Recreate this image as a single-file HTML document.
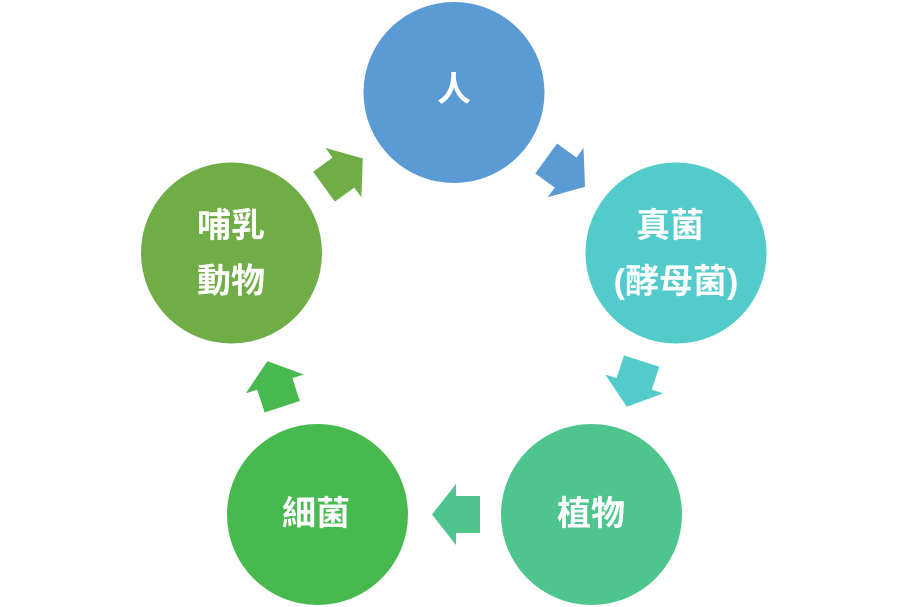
<!DOCTYPE html>
<html>
<head>
<meta charset="utf-8">
<style>
html,body{margin:0;padding:0;background:#fff;}
body{width:908px;height:607px;overflow:hidden;}
svg{display:block;}
text{font-family:"Liberation Sans","Noto Sans CJK TC","Noto Sans CJK JP",sans-serif;font-weight:bold;fill:#fff;font-size:34px;}
</style>
</head>
<body>
<svg width="908" height="607" viewBox="0 0 908 607" xmlns="http://www.w3.org/2000/svg">
  <!-- circles -->
  <circle cx="454" cy="92.5" r="90.5" fill="#5B9BD5"/>
  <circle cx="676" cy="253" r="90.5" fill="#53CBCB"/>
  <circle cx="591.5" cy="514.5" r="90.5" fill="#4DC58D"/>
  <circle cx="317.5" cy="514.5" r="90.5" fill="#48B94E"/>
  <circle cx="231.5" cy="253" r="90.5" fill="#70AD47"/>

  <!-- arrows -->
  <g id="a">
  </g>
  <polygon transform="translate(565.6,172.6) rotate(36)" points="-24,-18.5 0,-18.5 0,-30.5 24,0 0,30.5 0,18.5 -24,18.5" fill="#5B9BD5"/>
  <polygon transform="translate(634.2,383.9) rotate(108)" points="-24,-18.5 0,-18.5 0,-30.5 24,0 0,30.5 0,18.5 -24,18.5" fill="#53CBCB"/>
  <polygon transform="translate(456,514.5) rotate(180)" points="-24,-18.5 0,-18.5 0,-30.5 24,0 0,30.5 0,18.5 -24,18.5" fill="#4DC58D"/>
  <polygon transform="translate(274.8,383.9) rotate(252)" points="-24,-18.5 0,-18.5 0,-30.5 24,0 0,30.5 0,18.5 -24,18.5" fill="#48B94E"/>
  <polygon transform="translate(343.4,172.6) rotate(324)" points="-24,-18.5 0,-18.5 0,-30.5 24,0 0,30.5 0,18.5 -24,18.5" fill="#70AD47"/>

  <!-- labels -->
  <text x="454" y="90" text-anchor="middle" dominant-baseline="central">人</text>
  <text x="670" y="226" text-anchor="middle" dominant-baseline="central">真菌</text>
  <text x="676" y="282" text-anchor="middle" dominant-baseline="central">(酵母菌)</text>
  <text x="591" y="514" text-anchor="middle" dominant-baseline="central">植物</text>
  <text x="316" y="514" text-anchor="middle" dominant-baseline="central">細菌</text>
  <text x="231" y="226" text-anchor="middle" dominant-baseline="central">哺乳</text>
  <text x="231" y="281.5" text-anchor="middle" dominant-baseline="central">動物</text>
</svg>
</body>
</html>
